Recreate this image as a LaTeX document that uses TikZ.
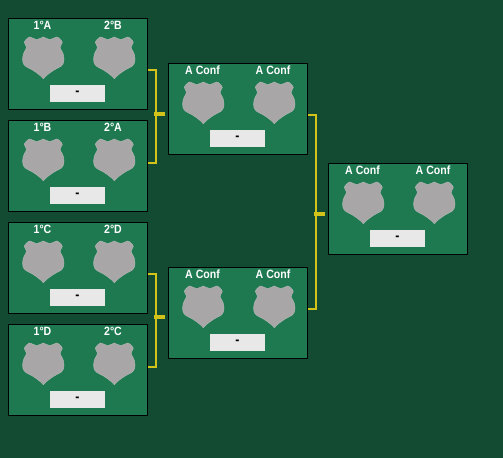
\documentclass[tikz,border=0pt]{standalone}
\usepackage{fontspec}
\setmainfont[FakeStretch=0.88]{Liberation Sans}
\usepackage{xcolor}
\usetikzlibrary{positioning,calc}

\definecolor{pitch}{HTML}{124A32}
\definecolor{card}{HTML}{1E7850}
\definecolor{crest}{HTML}{A8A6A7}
\definecolor{crestedge}{HTML}{AEB6B1}
\definecolor{scorefill}{HTML}{E8E8E8}
\definecolor{link}{HTML}{D2C31A}

\begin{document}
\begin{tikzpicture}[
    x=1pt, y=-1pt,
    node distance=11pt,
    matchbox/.style={rectangle, draw=black, line width=1pt, fill=card, minimum width=139pt, minimum height=91pt, outer sep=0pt},
    team/.style={text=white, font=\fontsize{12}{12}\selectfont\bfseries, inner sep=0pt},
    score/.style={rectangle, fill=scorefill, minimum width=55pt, minimum height=17pt, inner sep=0pt, font=\fontsize{14}{14}\selectfont\bfseries},
    bracket/.style={draw=link, line width=2pt},
    stub/.style={draw=link, line width=4pt, shorten <=-2pt},
    crest/.pic={
        \path[fill=crest, draw=crestedge, line width=0.5pt]
            (0,0) .. controls (2,0) and (3.5,2.7) .. (6.7,2.7)
            .. controls (9,2.7) and (11,0) .. (13.5,0)
            .. controls (15,0) and (19,4) .. (19,5.5)
            .. controls (19,7) and (16.8,8.5) .. (16.8,10)
            .. controls (16.8,13) and (20.7,15) .. (20.7,22)
            .. controls (20.7,26.5) and (19,29) .. (15.5,30.5)
            .. controls (12.5,32) and (9.5,33.5) .. (7,35.5)
            .. controls (4,37.5) and (2,39.5) .. (0,41.7)
            .. controls (-2,39.5) and (-4,37.5) .. (-7,35.5)
            .. controls (-9.5,33.5) and (-12.5,32) .. (-15.5,30.5)
            .. controls (-19,29) and (-20.7,26.5) .. (-20.7,22)
            .. controls (-20.7,15) and (-16.8,13) .. (-16.8,10)
            .. controls (-16.8,8.5) and (-19,7) .. (-19,5.5)
            .. controls (-19,4) and (-15,0) .. (-13.5,0)
            .. controls (-11,0) and (-9,2.7) .. (-6.7,2.7)
            .. controls (-3.5,2.7) and (-2,0) .. (0,0) -- cycle;
    }
]
    \fill[pitch] (0,0) rectangle (503,458);
    \useasboundingbox (0,0) rectangle (503,458);

    % first round
    \node[matchbox] (m1) at (78,64) {};
    \node[matchbox, below=of m1] (m2) {};
    \node[matchbox, below=of m2] (m3) {};
    \node[matchbox, below=of m3] (m4) {};

    % semi finals and final
    \node[matchbox, right=21pt of m1, yshift=-45pt] (m5) {};
    \node[matchbox, right=21pt of m3, yshift=-45pt] (m6) {};
    \node[matchbox, right=21pt of m5, yshift=-100pt] (m7) {};

    \foreach \name/\home/\away in {m1/1°A/2°B, m2/1°B/2°A, m3/1°C/2°D, m4/1°D/2°C, m5/A Conf/A Conf, m6/A Conf/A Conf, m7/A Conf/A Conf} {
        \node[team] (\name home) at ($(\name.north west)+(34,6.7)$) {\home};
        \node[team] (\name away) at ($(\name.north west)+(104.5,6.7)$) {\away};
        \pic at ($(\name.north west)+(34.8,18.5)$) {crest};
        \pic at ($(\name.north west)+(105.8,18.5)$) {crest};
        \node[score] (\name score) at ($(\name.north west)+(69,75)$) {-};
    }

    % brackets
    \coordinate (b1) at ($(m1.east)+(0,6)$);
    \coordinate (b2) at ($(m2.east)+(0,-3)$);
    \coordinate (j1) at ($(m1.east)+(8.5,50)$);
    \coordinate (s1) at ($(j1)+(9,0)$);
    \draw[bracket] (b1) -| (j1) |- (b2);
    \draw[stub] (j1) -- (s1);

    \coordinate (b3) at ($(m3.east)+(0,6)$);
    \coordinate (b4) at ($(m4.east)+(0,-3)$);
    \coordinate (j2) at ($(m3.east)+(8.5,49)$);
    \coordinate (s2) at ($(j2)+(9,0)$);
    \draw[bracket] (b3) -| (j2) |- (b4);
    \draw[stub] (j2) -- (s2);

    \coordinate (b5) at ($(m5.east)+(0,6)$);
    \coordinate (b6) at ($(m6.east)+(0,-4)$);
    \coordinate (j3) at ($(m5.east)+(8.5,105)$);
    \coordinate (s3) at ($(j3)+(9,0)$);
    \draw[bracket] (b5) -| (j3) |- (b6);
    \draw[stub] (j3) -- (s3);
\end{tikzpicture}
\end{document}
